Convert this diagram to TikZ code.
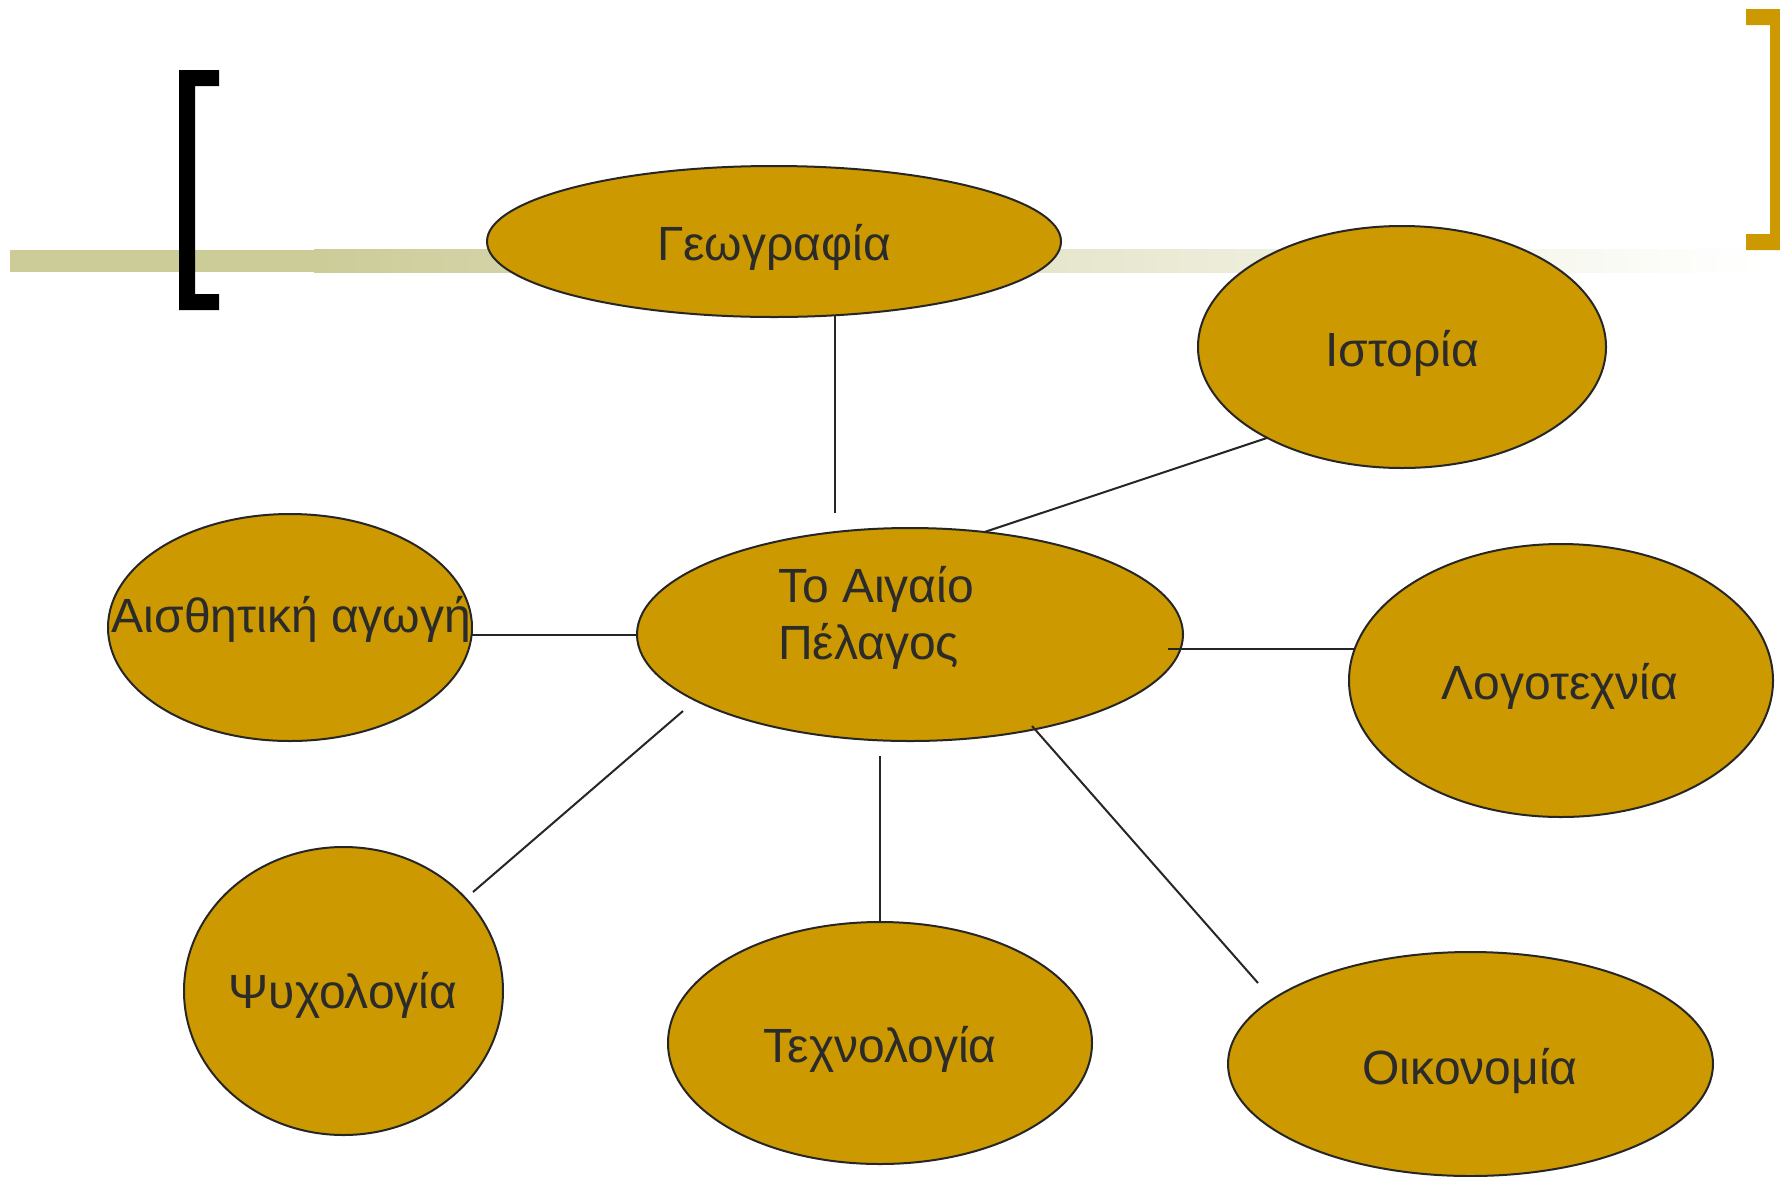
\documentclass[tikz,border=0pt]{standalone}
\usepackage{fontspec}
\setmainfont{Liberation Sans}
\usetikzlibrary{shapes.geometric,calc}
\definecolor{gold}{HTML}{CC9900}
\definecolor{barc}{HTML}{CCCC99}
\definecolor{linec}{HTML}{262626}
\definecolor{textc}{HTML}{2B2B2B}
\newcommand{\mainsize}{\fontsize{48}{57}\selectfont}
\tikzset{
  ell/.style={ellipse, draw=linec, fill=gold, line width=2pt, inner sep=0pt, outer sep=0pt},
  txt/.style={font=\mainsize, text=textc, inner sep=0pt, anchor=base},
  conn/.style={draw=linec, line width=2pt},
}
\begin{document}
\begin{tikzpicture}[x=1pt,y=-1pt]
\useasboundingbox (0,0) rectangle (1780,1176);
\fill[white] (0,0) rectangle (1780,1176);

% decorative bar
\fill[barc] (10,250) rectangle (314,272);
\shade[left color=barc, right color=white] (314,249) rectangle (1760,272);

% brackets
\fill[black] (219,70) -- (179,70) -- (179,310) -- (219,310) -- (219,294) -- (195,294) -- (195,86) -- (219,86) -- cycle;
\fill[gold] (1746,9) -- (1780,9) -- (1780,250) -- (1746,250) -- (1746,234) -- (1770,234) -- (1770,25) -- (1746,25) -- cycle;

% ellipses
\node[ell, minimum width=574pt, minimum height=151pt] (geo) at (774,241.5) {};
\node[ell, minimum width=408pt, minimum height=242pt] (ist) at (1402,347) {};
\node[ell, minimum width=364pt, minimum height=227pt] (ais) at (290,627.5) {};
\node[ell, minimum width=546pt, minimum height=213pt] (ctr) at (910,634.5) {};
\node[ell, minimum width=424pt, minimum height=273pt] (log) at (1561,680.5) {};
\node[ell, minimum width=319pt, minimum height=288pt] (psy) at (343.5,991) {};
\node[ell, minimum width=424pt, minimum height=242pt] (tech) at (880,1043) {};
\node[ell, minimum width=485pt, minimum height=224pt] (oik) at (1470.5,1064) {};

% texts
\node[txt] (geo-t) at (774,260) {Γεωγραφία};
\node[txt] (ist-t) at (1402,366) {Ιστορία};
\node[txt] (ais-t) at (291.5,632) {Αισθητική αγωγή};
\node[txt, anchor=base west] (ctr-t1) at (778,602) {Το Αιγαίο};
\node[txt, anchor=base west] (ctr-t2) at (778,659) {Πέλαγος};
\node[txt] (log-t) at (1560,699) {Λογοτεχνία};
\node[txt] (psy-t) at (343,1008) {Ψυχολογία};
\node[txt] (tech-t) at (880,1062) {Τεχνολογία};
\node[txt] (oik-t) at (1470,1084) {Οικονομία};

% free ends of connectors
\coordinate (c-geo) at (835,513);
\coordinate (c-log) at (1168,649);
\coordinate (c-psy1) at (683,711);
\coordinate (c-psy2) at (473,892);
\coordinate (c-tech) at (880,756);
\coordinate (c-oik1) at (1032,726);
\coordinate (c-oik2) at (1258,983);

% connectors
\draw[conn] (geo.-50 -| c-geo) -- (c-geo);
\draw[conn] (ist.214.6) -- (ctr.54.1);
\draw[conn] (ais.east |- ctr.west) -- (ctr.west);
\draw[conn] (c-log) -- (c-log -| log.171.2);
\draw[conn] (c-psy1) -- (c-psy2);
\draw[conn] (c-tech) -- (tech.north);
\draw[conn] (c-oik1) -- (c-oik2);
\end{tikzpicture}
\end{document}
